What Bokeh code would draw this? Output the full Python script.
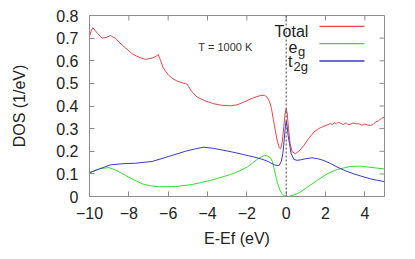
import math
from bokeh.plotting import figure
from bokeh.models import Range1d, FixedTicker, Span
from bokeh.core.properties import value
from bokeh.embed import file_html
from bokeh.resources import INLINE

# ---- data ----
total_e = [-10, -9.9, -9.83, -9.6, -9.36, -9.15, -8.93, -8.7, -8.51, -8.2,
           -7.83, -7.5, -7.15, -6.81, -6.6, -6.51, -6.4, -6.27, -6.1, -5.97,
           -5.75, -5.54, -5.3, -5.12, -5.03, -4.85, -4.7, -4.52, -4.1, -3.68,
           -3.25, -2.83, -2.5, -2.16, -1.7, -1.3, -1.1, -0.97, -0.85, -0.75,
           -0.65, -0.55, -0.45, -0.35, -0.28, -0.2, -0.12, -0.05, 0.0, 0.05,
           0.12, 0.2, 0.3, 0.47, 0.7, 0.9, 1.15, 1.41, 1.65, 1.92,
           2.1, 2.25, 2.35, 2.45, 2.55, 2.65, 2.76, 2.9, 3.05, 3.15,
           3.27, 3.4, 3.55, 3.69, 3.85, 4.0, 4.15, 4.29, 4.42, 4.54,
           4.7, 4.85, 5.0]
total_dos = [0.708, 0.735, 0.746, 0.722, 0.700, 0.703, 0.711, 0.700, 0.683, 0.659,
             0.631, 0.616, 0.606, 0.612, 0.620, 0.628, 0.605, 0.572, 0.550, 0.535,
             0.520, 0.510, 0.503, 0.499, 0.496, 0.470, 0.454, 0.439, 0.422, 0.410,
             0.403, 0.401, 0.405, 0.417, 0.435, 0.447, 0.447, 0.439, 0.420, 0.390,
             0.340, 0.290, 0.245, 0.215, 0.211, 0.240, 0.310, 0.370, 0.388, 0.370,
             0.300, 0.235, 0.198, 0.189, 0.205, 0.226, 0.257, 0.285, 0.300, 0.311,
             0.317, 0.322, 0.318, 0.326, 0.321, 0.328, 0.324, 0.318, 0.326, 0.317,
             0.319, 0.325, 0.321, 0.322, 0.315, 0.320, 0.316, 0.314, 0.318, 0.329,
             0.335, 0.346, 0.350]

t2g_e = [-10, -9.5, -8.93, -8.3, -7.66, -6.81, -5.97, -5.12, -4.61, -4.19,
         -3.7, -3.17, -2.65, -2.16, -1.7, -1.31, -1.0, -0.8, -0.6, -0.45,
         -0.35, -0.25, -0.17, -0.1, -0.05, 0.0, 0.05, 0.1, 0.17, 0.25,
         0.39, 0.55, 0.73, 1.0, 1.32, 1.6, 1.92, 2.25, 2.59, 3.0,
         3.44, 3.85, 4.29, 4.65, 5.0]
t2g_dos = [0.105, 0.122, 0.140, 0.145, 0.147, 0.155, 0.177, 0.200, 0.211, 0.218,
           0.213, 0.204, 0.195, 0.185, 0.176, 0.167, 0.158, 0.149, 0.140, 0.137,
           0.138, 0.155, 0.189, 0.250, 0.300, 0.333, 0.310, 0.270, 0.233, 0.190,
           0.164, 0.160, 0.162, 0.167, 0.171, 0.167, 0.159, 0.146, 0.130, 0.114,
           0.100, 0.089, 0.078, 0.071, 0.066]

eg_e = [-10, -9.5, -9.02, -8.6, -8.17, -7.75, -7.32, -6.9, -6.47, -5.63,
        -4.78, -3.85, -2.83, -2.4, -1.98, -1.47, -1.25, -1.1, -0.95, -0.8,
        -0.7, -0.63, -0.5, -0.43, -0.3, -0.2, -0.12, 0.0, 0.13, 0.3,
        0.56, 0.8, 1.07, 1.58, 2.08, 2.59, 3.27, 3.78, 4.46, 5.0]
eg_dos = [0.105, 0.122, 0.128, 0.114, 0.093, 0.074, 0.056, 0.047, 0.043, 0.044,
          0.053, 0.071, 0.097, 0.112, 0.130, 0.164, 0.176, 0.181, 0.179, 0.171,
          0.155, 0.130, 0.080, 0.056, 0.025, 0.010, 0.004, 0.001, 0.000, 0.004,
          0.012, 0.024, 0.041, 0.071, 0.100, 0.119, 0.133, 0.134, 0.127, 0.122]

x_ticks = [-10, -8, -6, -4, -2, 0, 2, 4]
y_ticks = [0, 0.1, 0.2, 0.3, 0.4, 0.5, 0.6, 0.7, 0.8]
y_tick_labels = {0: "0", 0.1: "0.1", 0.2: "0.2", 0.3: "0.3", 0.4: "0.4",
                 0.5: "0.5", 0.6: "0.6", 0.7: "0.7", 0.8: "0.8"}
X_MIN, X_MAX = -10, 5
Y_MIN, Y_MAX = 0, 0.8

RED = "#e6474a"
GREEN = "#33dd33"
BLUE = "#3838d4"
FRAME = "#8c8c8c"
FONT = "Liberation Sans"

p = figure(width=407, height=251, output_backend="svg", toolbar_location=None,
           x_range=Range1d(X_MIN, X_MAX), y_range=Range1d(Y_MIN, Y_MAX),
           min_border_left=89, min_border_right=23, min_border_top=15,
           min_border_bottom=55)
p.background_fill_color = "white"
p.border_fill_color = "white"
p.outline_line_color = FRAME
p.xgrid.visible = False
p.ygrid.visible = False

for ax in (p.xaxis[0], p.yaxis[0]):
    ax.axis_line_color = FRAME
    ax.major_tick_line_color = FRAME
    ax.major_tick_in = 5
    ax.major_tick_out = 0
    ax.minor_tick_line_color = None
    ax.major_label_text_font = FONT
    ax.major_label_text_font_size = "16px"
    ax.major_label_text_color = "#222222"
    ax.axis_label_text_font = FONT
    ax.axis_label_text_font_size = "16px"
    ax.axis_label_text_font_style = "normal"
    ax.axis_label_text_color = "#222222"

p.xaxis[0].ticker = FixedTicker(ticks=x_ticks)
p.yaxis[0].ticker = FixedTicker(ticks=y_ticks)
p.yaxis[0].major_label_overrides = y_tick_labels
p.xaxis[0].axis_label = "E-Ef (eV)"
p.yaxis[0].axis_label = "DOS (1/eV)"
p.xaxis[0].major_label_standoff = 10
p.yaxis[0].major_label_standoff = 11
p.xaxis[0].axis_label_standoff = 8
p.yaxis[0].axis_label_standoff = 25

# mirrored tick marks on the top and right frame edges
p.ray(x=x_ticks, y=[Y_MAX] * len(x_ticks), length=5, length_units="screen",
      angle=-math.pi / 2, line_color=FRAME, line_width=1)
p.ray(x=[X_MAX] * len(y_ticks), y=y_ticks, length=5, length_units="screen",
      angle=math.pi, line_color=FRAME, line_width=1)

# Fermi level
p.add_layout(Span(location=0, dimension="height", line_color="#444444",
                  line_width=1, line_dash="2 2"))

p.line(total_e, total_dos, line_color=RED, line_width=1)
p.line(eg_e, eg_dos, line_color=GREEN, line_width=1)
p.line(t2g_e, t2g_dos, line_color=BLUE, line_width=1)

# annotation
p.text(x=[-3.09], y=[0.659], text=["T = 1000 K"], text_font=value(FONT),
       text_font_size="11px", text_color="#333333", text_align="center",
       text_baseline="middle")

# legend (gnuplot style: label, then sample line)
leg_x0, leg_x1 = 1.69, 3.98
p.line([leg_x0, leg_x1], [0.752, 0.752], line_color=RED, line_width=1.3)
p.line([leg_x0, leg_x1], [0.676, 0.676], line_color=GREEN, line_width=1.3)
p.line([leg_x0, leg_x1], [0.599, 0.599], line_color=BLUE, line_width=1.3)
p.text(x=[1.13, 0.575, 0.32], y=[0.731, 0.661, 0.597],
       text=["Total", "e", "t"], text_font=value(FONT), text_font_size="16px",
       text_color="#222222", text_align="right", text_baseline="alphabetic")
p.text(x=[0.60, 0.37], y=[0.639, 0.575], text=["g", "2g"],
       text_font=value(FONT), text_font_size="13px", text_color="#222222",
       text_align="left", text_baseline="alphabetic")

open("out.html", "w").write(file_html(p, INLINE))
